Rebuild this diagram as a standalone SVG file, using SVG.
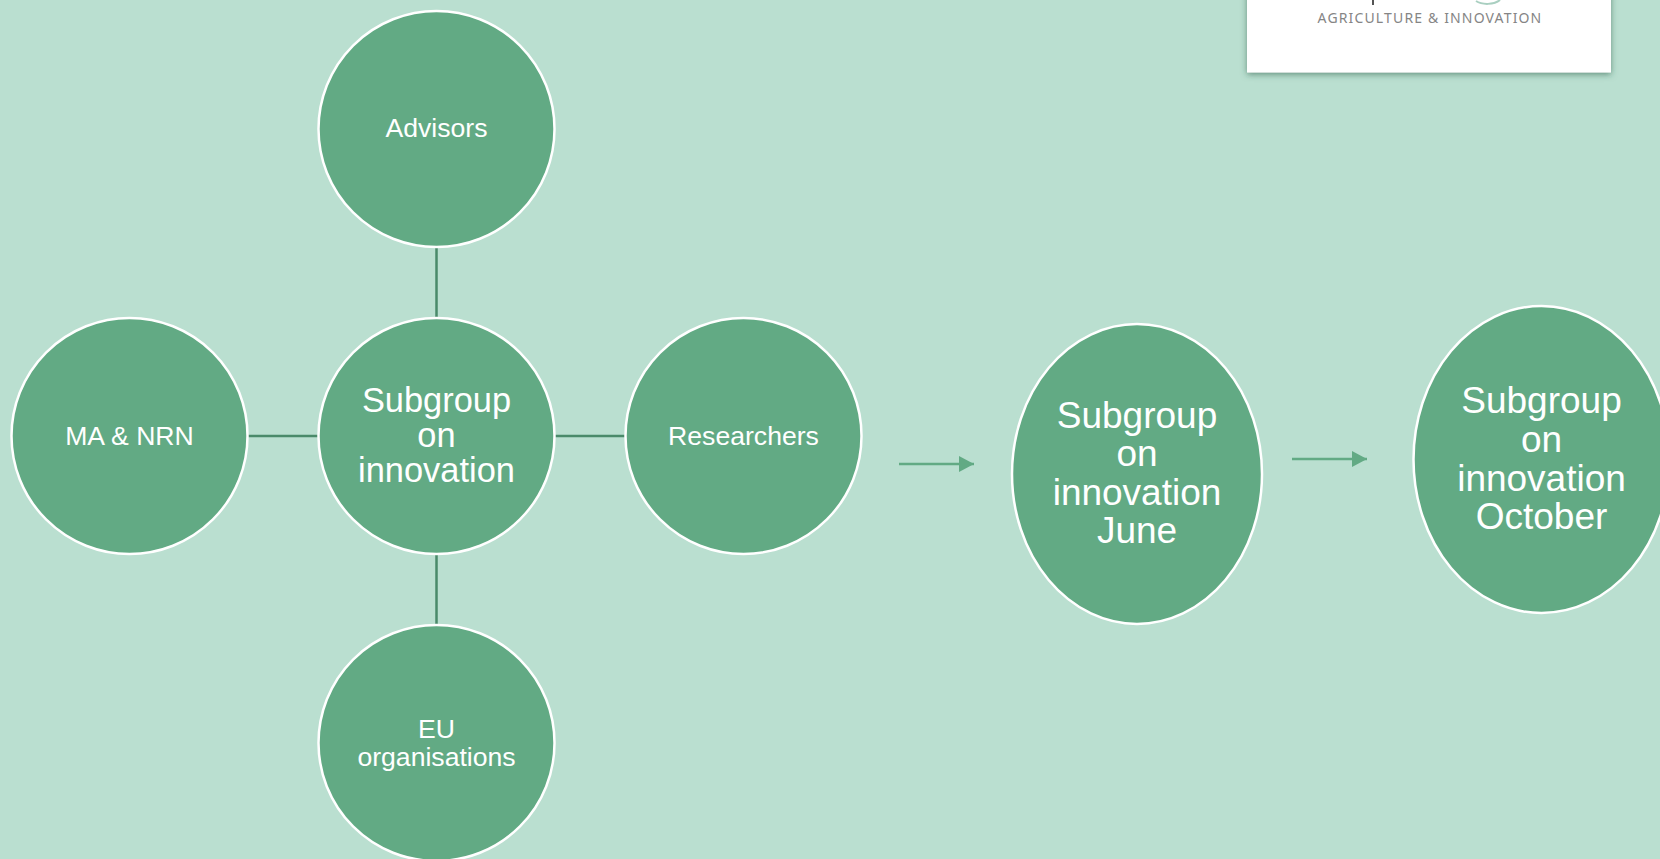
<svg xmlns="http://www.w3.org/2000/svg" width="1660" height="859" viewBox="0 0 1660 859">
<style>
.n{fill:#62aa84;stroke:#fff;stroke-width:2.5}
.t{font-family:"Liberation Sans",Arial,sans-serif;fill:#fff;text-anchor:middle}
.s{font-size:26.600px}
.b{font-size:34.400px}
.c{font-size:37px}
.l{stroke:#4a8a6a;stroke-width:2.5;fill:none}
.a{stroke:#62aa84;stroke-width:2.5;fill:none;marker-end:url(#arr)}
</style>
<defs>
<marker id="arr" markerUnits="userSpaceOnUse" markerWidth="16" markerHeight="16" refX="15" refY="8" orient="auto"><path d="M0 0L15 8L0 16z" fill="#62aa84"/></marker>
<filter id="sh" x="-10%" y="-20%" width="120%" height="150%"><feDropShadow dx="0" dy="2" stdDeviation="3" flood-color="#2f5f48" flood-opacity=".6"/></filter>
</defs>
<rect width="1660" height="859" fill="#badfd0"/>
<g id="logo">
<rect x="1247" y="-20" width="364" height="92.500" fill="#fff" filter="url(#sh)"/>
<path d="M1373 0V5" stroke="#555" stroke-width="2" fill="none"/>
<path d="M1476 1C1482 5 1494 5 1500 0" stroke="#a9cfc0" stroke-width="2" fill="none"/>
<text x="1430" y="23" font-family="'Noto Sans',sans-serif" font-size="14" letter-spacing="1.150" fill="#858585" text-anchor="middle">AGRICULTURE &amp; INNOVATION</text>
</g>
<g id="connectors">
<path class="l" d="M436.500 248V318M436.500 554V624M248 436H319M554 436H625"/>
<path class="a" d="M899 464H974"/>
<path class="a" d="M1292 459H1367"/>
</g>
<g id="advisors"><circle class="n" cx="436.500" cy="129" r="118"/><text class="t s" x="436.500" y="137">Advisors</text></g>
<g id="ma-nrn"><circle class="n" cx="129.500" cy="436" r="118"/><text class="t s" x="129.500" y="445">MA &amp; NRN</text></g>
<g id="center"><circle class="n" cx="436.500" cy="436" r="118"/><text class="t b"><tspan x="436.500" y="412">Subgroup</tspan><tspan x="436.500" y="447">on</tspan><tspan x="436.500" y="482">innovation</tspan></text></g>
<g id="researchers"><circle class="n" cx="743.500" cy="436" r="118"/><text class="t s" x="743.500" y="445">Researchers</text></g>
<g id="eu"><circle class="n" cx="436.500" cy="743" r="118"/><text class="t s"><tspan x="436.500" y="738">EU</tspan><tspan x="436.500" y="766">organisations</tspan></text></g>
<g id="june"><ellipse class="n" cx="1137" cy="474" rx="125" ry="150"/><text class="t c"><tspan x="1137" y="428">Subgroup</tspan><tspan x="1137" y="466">on</tspan><tspan x="1137" y="505">innovation</tspan><tspan x="1137" y="543">June</tspan></text></g>
<g id="october"><ellipse class="n" cx="1541.500" cy="459.500" rx="128" ry="153.500"/><text class="t c"><tspan x="1541.500" y="413">Subgroup</tspan><tspan x="1541.500" y="452">on</tspan><tspan x="1541.500" y="491">innovation</tspan><tspan x="1541.500" y="529">October</tspan></text></g>
</svg>
